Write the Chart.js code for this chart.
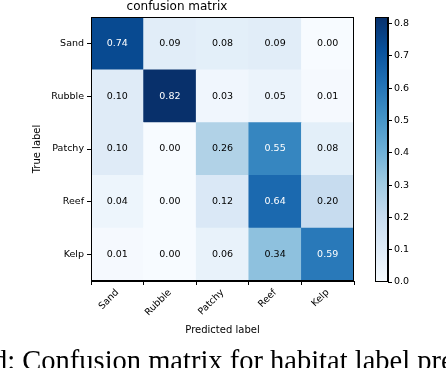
<!DOCTYPE html>
<html>
<head>
<meta charset="utf-8">
<script src="https://cdn.jsdelivr.net/npm/chart.js@4.4.0/dist/chart.umd.min.js"></script>
<style>
  html, body { margin: 0; padding: 0; background: #fff; }
  body { width: 446px; height: 368px; overflow: hidden; position: relative; }
  #main { position: absolute; left: 0; top: 0; }
  #bar { position: absolute; left: 360px; top: 0; }
  #caption {
    position: absolute; left: -7px; top: 345px;
    font-family: 'Liberation Serif', 'DejaVu Serif', serif; font-size: 28.5px;
    white-space: nowrap; color: #000;
  }
</style>
</head>
<body>
<canvas id="main" width="446" height="368"></canvas>
<canvas id="bar" width="86" height="368"></canvas>
<div id="caption">d: Confusion matrix for habitat label predictions.</div>
<script>
// DATA
const classes = ['Sand', 'Rubble', 'Patchy', 'Reef', 'Kelp'];
const sandRow   = [0.74, 0.09, 0.08, 0.09, 0.00];
const rubbleRow = [0.10, 0.82, 0.03, 0.05, 0.01];
const patchyRow = [0.10, 0.00, 0.26, 0.55, 0.08];
const reefRow   = [0.04, 0.00, 0.12, 0.64, 0.20];
const kelpRow   = [0.01, 0.00, 0.06, 0.34, 0.59];
const matrix = [sandRow, rubbleRow, patchyRow, reefRow, kelpRow];
const colorbarTicks = [0.0, 0.1, 0.2, 0.3, 0.4, 0.5, 0.6, 0.7, 0.8];
const vmax = 0.82;

// matplotlib "Blues"
const blues = [
    [247, 251, 255], [222, 235, 247], [198, 219, 239], [158, 202, 225],
    [107, 174, 214], [66, 146, 198], [33, 113, 181], [8, 81, 156], [8, 48, 107]
];
function blue(v) {
    let t = Math.max(0, Math.min(1, v / vmax)) * (blues.length - 1);
    let i = Math.min(Math.floor(t), blues.length - 2);
    let f = t - i;
    let c = blues[i].map((a, k) => Math.round(a + (blues[i + 1][k] - a) * f));
    return 'rgb(' + c.join(',') + ')';
}

const FONT = 'DejaVu Sans';

// one stacked dataset per row, bottom row first
const datasets = matrix.map((row, r) => ({
    label: classes[r],
    data: row.map(() => 1),
    backgroundColor: row.map(blue),
    borderWidth: 0,
    barPercentage: 1,
    categoryPercentage: 1
})).reverse();

// value labels in each cell + frame
const cellText = {
    id: 'cellText',
    afterDatasetsDraw(chart) {
        const ctx = chart.ctx;
        const n = classes.length;
        ctx.save();
        ctx.font = '9.5px "' + FONT + '"';
        ctx.textAlign = 'center';
        ctx.textBaseline = 'middle';
        chart.data.datasets.forEach((ds, di) => {
            const r = n - 1 - di;
            chart.getDatasetMeta(di).data.forEach((bar, c) => {
                const v = matrix[r][c];
                ctx.fillStyle = v > vmax / 2 ? '#fff' : '#000';
                ctx.fillText(v.toFixed(2), bar.x, (bar.y + bar.base) / 2);
            });
        });
        const a = chart.chartArea;
        ctx.strokeStyle = '#000';
        ctx.lineWidth = 1;
        ctx.strokeRect(Math.round(a.left) + 0.5, Math.round(a.top) + 0.5,
            Math.round(a.right - a.left) - 1, Math.round(a.bottom - a.top) - 1);
        ctx.restore();
    }
};

new Chart(document.getElementById('main'), {
    type: 'bar',
    data: { labels: classes, datasets: datasets },
    options: {
        responsive: false,
        animation: false,
        layout: { padding: { left: 0, right: 92, top: 0, bottom: 0 } },
        plugins: {
            legend: { display: false },
            tooltip: { enabled: false },
            title: {
                display: true,
                text: 'confusion matrix',
                color: '#000',
                font: { family: FONT, size: 12, weight: 'normal' },
                padding: { top: 0, bottom: 2.6 }
            }
        },
        scales: {
            x: {
                stacked: true,
                afterFit(s) { s.height = 87; },
                grid: { drawOnChartArea: false, drawTicks: true, tickLength: 4, color: '#000' },
                border: { display: true, color: '#000' },
                ticks: { color: '#000', font: { family: FONT, size: 9.5 }, maxRotation: 45, minRotation: 45, padding: 2 },
                title: {
                    display: true, text: 'Predicted label', color: '#000',
                    font: { family: FONT, size: 10 }, padding: { top: 0, bottom: 32 }
                }
            },
            y: {
                stacked: true,
                min: 0,
                max: classes.length,
                afterFit(s) { s.width = 91; },
                afterBuildTicks(s) {
                    s.ticks = classes.map((c, i) => ({ value: classes.length - 0.5 - i }));
                },
                grid: { drawOnChartArea: false, drawTicks: true, tickLength: 4, color: '#000' },
                border: { display: true, color: '#000' },
                ticks: {
                    color: '#000', font: { family: FONT, size: 9.5 }, padding: 3,
                    callback: (v) => classes[Math.round(classes.length - 0.5 - v)]
                },
                title: {
                    display: true, text: 'True label', color: '#000',
                    font: { family: FONT, size: 10 }, padding: { top: 31, bottom: 0 }
                }
            }
        }
    },
    plugins: [cellText]
});

// COLORBAR
const outline = {
    id: 'outline',
    afterDatasetsDraw(chart) {
        const a = chart.chartArea, ctx = chart.ctx;
        ctx.save();
        ctx.strokeStyle = '#000';
        ctx.lineWidth = 1;
        ctx.strokeRect(Math.round(a.left) + 0.5, Math.round(a.top) + 0.5,
            Math.round(a.right - a.left) - 1, Math.round(a.bottom - a.top) - 1);
        ctx.restore();
    }
};

new Chart(document.getElementById('bar'), {
    type: 'bar',
    data: {
        labels: ['cb'],
        datasets: [{
            data: [[0, vmax]],
            borderWidth: 0,
            barPercentage: 1,
            categoryPercentage: 1,
            backgroundColor(c) {
                const a = c.chart.chartArea;
                if (!a) return blue(vmax / 2);
                const g = c.chart.ctx.createLinearGradient(0, a.bottom, 0, a.top);
                blues.forEach((col, i) => g.addColorStop(i / (blues.length - 1), 'rgb(' + col.join(',') + ')'));
                return g;
            }
        }]
    },
    options: {
        responsive: false,
        animation: false,
        layout: { padding: { left: 15, right: 0, top: 17, bottom: 86 } },
        plugins: { legend: { display: false }, tooltip: { enabled: false } },
        scales: {
            x: { display: false },
            y: {
                position: 'right',
                min: 0,
                max: vmax,
                afterFit(s) { s.width = 58; },
                afterBuildTicks(s) { s.ticks = colorbarTicks.map(v => ({ value: v })); },
                grid: { drawOnChartArea: false, drawTicks: true, tickLength: 4, color: '#000' },
                border: { display: true, color: '#000' },
                ticks: { color: '#000', font: { family: FONT, size: 9.5 }, padding: 2, callback: (v) => v.toFixed(1) }
            }
        }
    },
    plugins: [outline]
});
</script>
</body>
</html>
